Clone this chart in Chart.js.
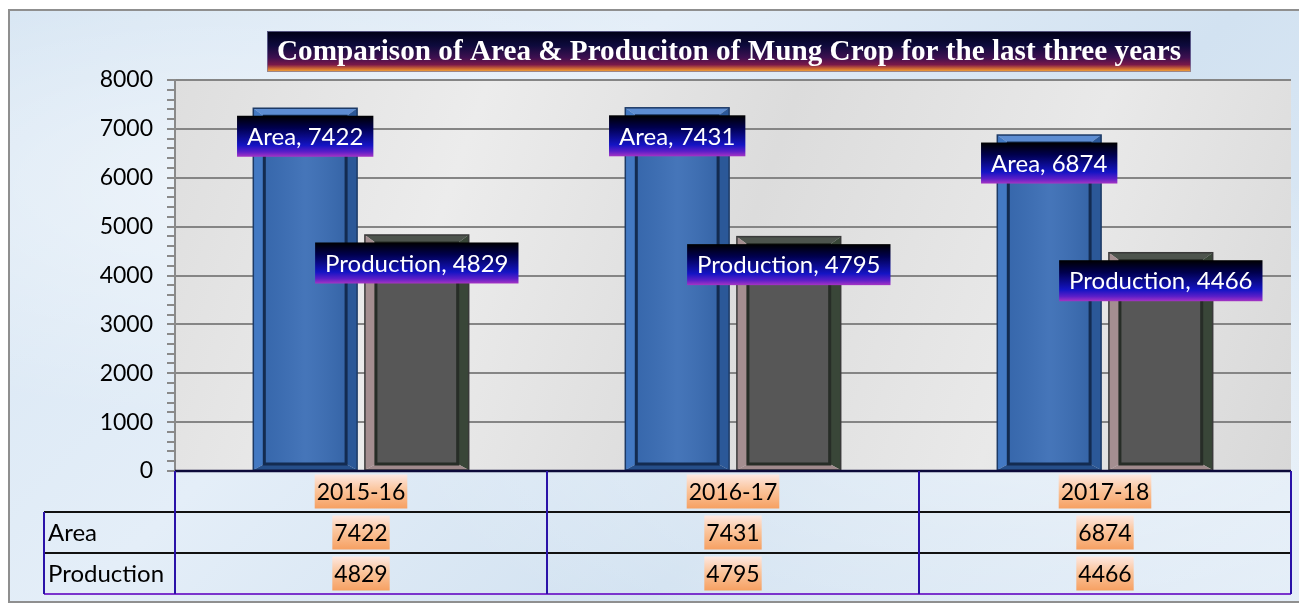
<!DOCTYPE html>
<html><head><meta charset="utf-8">
<script src="https://cdn.jsdelivr.net/npm/chart.js@4/dist/chart.umd.min.js"></script>
<style>
html,body{margin:0;padding:0;width:1299px;height:605px;overflow:hidden;background:#fff;}
#frame{position:absolute;left:8px;top:9px;width:1300px;height:594px;border:2px solid #8f8f8f;box-sizing:border-box;
 background:
  radial-gradient(ellipse at 20% 30%, rgba(255,255,255,0.5), rgba(255,255,255,0) 40%),
  radial-gradient(ellipse at 80% 70%, rgba(255,255,255,0.45), rgba(255,255,255,0) 45%),
  linear-gradient(135deg,#d6e5f3 0%,#e4eef8 35%,#d2e2f1 65%,#e1ecf7 100%);}
canvas{position:absolute;left:0;top:0;}
</style></head><body>
<div id="frame"></div>
<canvas id="c" width="1299" height="605"></canvas>
<script>
const chartTitle = 'Comparison of Area & Produciton of Mung Crop for the last three years';
const categories = ['2015-16', '2016-17', '2017-18'];
const seriesNames = ['Area', 'Production'];
const areaValues = [7422, 7431, 6874];
const productionValues = [4829, 4795, 4466];
const yMin = 0, yMax = 8000, yStep = 1000, yMinorStep = 200;

const FONT = 'Lato, "Open Sans", sans-serif';

function bevelBar(ctx, x, top, base, w, kind) {
  const l = x - w / 2, r = x + w / 2, t = top, b = base;
  const side = 11, tb = 8, bb = 6;
  const il = l + side, ir = r - side, it = t + tb, ib = b - bb;
  const pal = kind === 0
    ? {face:'#3a6db5', left:'#4379c3', top:'#5d8dd2', right:'#2b5898', bottom:'#264f8a', inner:'#132b50', outer:'#1d3a66'}
    : {face:'#575757', left:'#a48e90', top:'#4d544d', right:'#394638', bottom:'#a08a8c', inner:'#272d27', outer:'#3a3a3a'};
  const poly = (pts, c) => { ctx.beginPath(); ctx.moveTo(pts[0][0], pts[0][1]); for (let i = 1; i < pts.length; i++) ctx.lineTo(pts[i][0], pts[i][1]); ctx.closePath(); ctx.fillStyle = c; ctx.fill(); };
  ctx.save();
  poly([[l,t],[r,t],[ir,it],[il,it]], pal.top);
  poly([[l,t],[il,it],[il,ib],[l,b]], pal.left);
  poly([[r,t],[r,b],[ir,ib],[ir,it]], pal.right);
  poly([[l,b],[il,ib],[ir,ib],[r,b]], pal.bottom);
  ctx.fillStyle = pal.face;
  ctx.fillRect(il, it, ir - il, ib - it);
  if (kind === 0) {
    const g = ctx.createLinearGradient(il, 0, ir, 0);
    g.addColorStop(0, 'rgba(0,0,0,0.05)'); g.addColorStop(0.5, 'rgba(255,255,255,0.06)'); g.addColorStop(1, 'rgba(0,0,0,0.08)');
    ctx.fillStyle = g; ctx.fillRect(il, it, ir - il, ib - it);
  }
  ctx.lineWidth = 3; ctx.strokeStyle = pal.inner;
  ctx.strokeRect(il, it, ir - il, ib - it);
  ctx.lineWidth = 1.5; ctx.strokeStyle = pal.outer;
  ctx.strokeRect(l, t, r - l, b - t);
  ctx.restore();
}

const decor = {
  id: 'decor',
  beforeDraw(chart) {
    const {ctx, chartArea: a} = chart;
    ctx.save();
    const g = ctx.createLinearGradient(a.left, a.top, a.right, a.bottom);
    g.addColorStop(0, '#dedede'); g.addColorStop(0.25, '#ececec'); g.addColorStop(0.5, '#dcdcdc');
    g.addColorStop(0.75, '#e9e9e9'); g.addColorStop(1, '#d8d8d8');
    ctx.fillStyle = g;
    ctx.fillRect(a.left, a.top, a.right - a.left, a.bottom - a.top);
    ctx.restore();
  },
  afterDatasetsDraw(chart) {
    const ctx = chart.ctx;
    chart.data.datasets.forEach((ds, di) => {
      const meta = chart.getDatasetMeta(di);
      meta.data.forEach(el => {
        const p = el.getProps(['x', 'y', 'base', 'width'], true);
        bevelBar(ctx, p.x, p.y, p.base, p.width, di);
      });
    });
    ctx.save();
    ctx.font = '24px ' + FONT;
    ctx.textAlign = 'center'; ctx.textBaseline = 'middle';
    chart.data.datasets.forEach((ds, di) => {
      const meta = chart.getDatasetMeta(di);
      meta.data.forEach((el, i) => {
        const p = el.getProps(['x', 'y'], true);
        const txt = ds.label + ', ' + ds.data[i];
        const w = ctx.measureText(txt).width + 20, h = 41;
        const cx = p.x, cy = p.y + 28;
        const g = ctx.createLinearGradient(0, cy - h / 2, 0, cy + h / 2);
        g.addColorStop(0, '#000000'); g.addColorStop(0.3, '#00004e'); g.addColorStop(0.72, '#1414c4');
        g.addColorStop(0.88, '#5a1ec8'); g.addColorStop(1, '#a634c4');
        ctx.fillStyle = g;
        ctx.fillRect(cx - w / 2, cy - h / 2, w, h);
        ctx.fillStyle = '#ffffff';
        ctx.fillText(txt, cx, cy + 1);
      });
    });
    ctx.restore();
  },
  afterDraw(chart) {
    const {ctx, chartArea: a} = chart;
    const ys = chart.scales.y, xs = chart.scales.x;
    ctx.save();
    ctx.strokeStyle = '#8a8a8a'; ctx.lineWidth = 2;
    for (let v = yMin; v <= yMax; v += yMinorStep) {
      const y = Math.round(ys.getPixelForValue(v));
      ctx.beginPath(); ctx.moveTo(a.left - 8, y); ctx.lineTo(a.left, y); ctx.stroke();
    }
    const rowTop = a.bottom, r1 = a.bottom + 41, r2 = r1 + 41, r3 = r2 + 41;
    const hdrLeft = 44, right = a.right;
    const bounds = [a.left];
    for (let i = 0; i < categories.length; i++) {
      const c = xs.getPixelForValue(i);
      bounds.push(c + (c - bounds[bounds.length - 1]));
    }
    bounds[bounds.length - 1] = right;
    ctx.font = '23px ' + FONT;
    ctx.textBaseline = 'middle';
    function hl(txt, cx, cy) {
      const w = ctx.measureText(txt).width + 4;
      const g = ctx.createLinearGradient(0, cy - 17, 0, cy + 17);
      g.addColorStop(0, '#fde8e2'); g.addColorStop(0.45, '#fbc59c'); g.addColorStop(1, '#f6a062');
      ctx.fillStyle = g;
      ctx.fillRect(cx - w / 2, cy - 17, w, 34);
      ctx.fillStyle = '#000';
      ctx.textAlign = 'center';
      ctx.fillText(txt, cx, cy + 1);
    }
    categories.forEach((cat, i) => {
      const cx = (bounds[i] + bounds[i + 1]) / 2;
      hl(cat, cx, (rowTop + r1) / 2);
      hl(String(areaValues[i]), cx, (r1 + r2) / 2);
      hl(String(productionValues[i]), cx, (r2 + r3) / 2);
    });
    ctx.textAlign = 'left'; ctx.fillStyle = '#000';
    ctx.font = '24px ' + FONT;
    ctx.fillText(seriesNames[0], hdrLeft + 4, (r1 + r2) / 2 + 1);
    ctx.fillText(seriesNames[1], hdrLeft + 4, (r2 + r3) / 2 + 1);
    const line = (x1, y1, x2, y2, c, w) => { ctx.strokeStyle = c; ctx.lineWidth = w; ctx.beginPath(); ctx.moveTo(x1, y1); ctx.lineTo(x2, y2); ctx.stroke(); };
    line(a.left, rowTop, right, rowTop, '#0c0a3a', 2.5);
    line(hdrLeft, r1, right, r1, '#111111', 2);
    line(hdrLeft, r2, right, r2, '#111111', 2);
    line(hdrLeft, r3, right, r3, '#7b34cc', 2);
    bounds.forEach(x => line(x, rowTop, x, r3, '#2a12a8', 2));
    line(hdrLeft, r1, hdrLeft, r3, '#2a12a8', 2);
    const tx1 = 267, tx2 = 1191, ty1 = 31, ty2 = 72;
    const tg = ctx.createLinearGradient(0, ty1, 0, ty2);
    tg.addColorStop(0, '#000014'); tg.addColorStop(0.35, '#0d0a3c'); tg.addColorStop(0.65, '#3e1050');
    tg.addColorStop(0.82, '#7a1848'); tg.addColorStop(0.92, '#d06a34'); tg.addColorStop(1, '#f7b23a');
    ctx.fillStyle = tg;
    ctx.fillRect(tx1, ty1, tx2 - tx1, ty2 - ty1);
    ctx.strokeStyle = 'rgba(120,120,170,0.7)'; ctx.lineWidth = 1;
    ctx.strokeRect(tx1 + 0.5, ty1 + 0.5, tx2 - tx1 - 1, ty2 - ty1 - 1);
    ctx.font = 'bold 30px "Liberation Serif", serif';
    const mw = ctx.measureText(chartTitle).width;
    const target = 904;
    ctx.save();
    ctx.translate((tx1 + tx2) / 2, (ty1 + ty2) / 2 + 1);
    ctx.scale(target / mw, 1);
    ctx.fillStyle = '#ffffff'; ctx.textAlign = 'center'; ctx.textBaseline = 'middle';
    ctx.fillText(chartTitle, 0, 0);
    ctx.restore();
    ctx.restore();
  }
};

new Chart(document.getElementById('c'), {
  type: 'bar',
  data: {
    labels: categories,
    datasets: [
      {label: seriesNames[0], data: areaValues, backgroundColor: 'rgba(0,0,0,0)', categoryPercentage: 0.6, barPercentage: 0.93},
      {label: seriesNames[1], data: productionValues, backgroundColor: 'rgba(0,0,0,0)', categoryPercentage: 0.6, barPercentage: 0.93}
    ]
  },
  options: {
    responsive: false, animation: false, devicePixelRatio: 1,
    layout: {padding: {left: 20, right: 8, top: 80, bottom: 134}},
    plugins: {legend: {display: false}, title: {display: false}, tooltip: {enabled: false}},
    scales: {
      x: {display: false},
      y: {
        min: yMin, max: yMax,
        afterFit(s) { s.width = 155; },
        ticks: {stepSize: yStep, color: '#000', font: {family: FONT, size: 23}, padding: 14,
                callback: v => String(v)},
        grid: {color: '#858585', lineWidth: 2, tickLength: 8, tickColor: '#8a8a8a'},
        border: {display: true, color: '#8a8a8a', width: 2}
      }
    }
  },
  plugins: [decor]
});
</script>
</body></html>
